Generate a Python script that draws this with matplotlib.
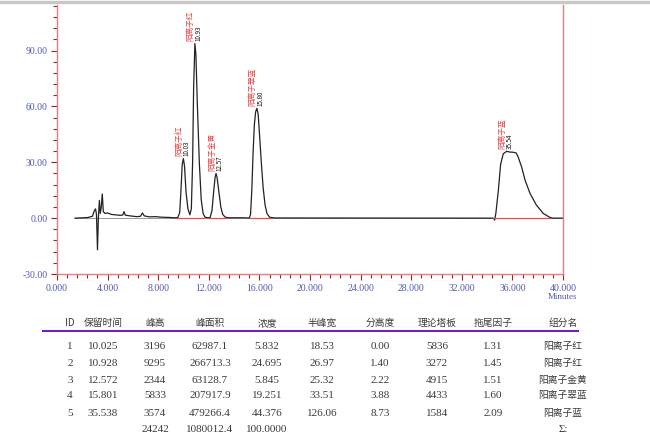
import matplotlib
matplotlib.use("Agg")
import matplotlib.pyplot as plt
from matplotlib.ticker import MultipleLocator, FormatStrFormatter
from matplotlib.lines import Line2D

plt.rcParams['font.family'] = ['Noto Sans CJK SC', 'DejaVu Sans']

# chromatogram trace (minutes, mV)
trace_t = [1.42, 2.4, 2.8, 2.95, 3.05, 3.12, 3.2, 3.27, 3.35, 3.42, 3.5, 3.58, 3.66,
           3.8, 4.0, 4.3, 4.6, 5.0, 5.2, 5.3, 5.4, 5.8, 6.3, 6.6, 6.75, 6.9, 7.3, 7.8,
           8.3, 8.8, 9.3, 9.55, 9.7, 9.8, 9.9, 9.99, 10.08, 10.2, 10.35, 10.5, 10.62,
           10.72, 10.8, 10.9, 10.98, 11.1, 11.25, 11.4, 11.55, 11.7, 11.9, 12.1, 12.25,
           12.38, 12.5, 12.57, 12.65, 12.8, 12.95, 13.1, 13.3, 13.6, 14.5, 15.2, 15.3,
           15.4, 15.5, 15.6, 15.7, 15.8, 15.9, 16.0, 16.15, 16.3, 16.45, 16.6, 16.8,
           17.2, 34.5, 34.6, 34.7, 34.89, 35.07, 35.28, 35.55, 35.8, 36.07, 36.3, 36.45,
           36.6, 36.73, 37.0, 37.4, 37.9, 38.44, 38.97, 39.2, 40.0]
trace_s = [0.0, 0.3, 1.0, 4.0, 5.0, 2.0, -17.0, 0.0, 9.5, 2.5, 6.0, 13.0, 3.5,
           2.5, 2.8, 2.0, 1.8, 1.5, 1.7, 3.5, 1.6, 1.2, 0.8, 1.0, 2.8, 1.2, 0.7, 0.8,
           0.5, 0.4, 0.2, 0.3, 3.0, 15.0, 29.0, 32.0, 28.0, 14.0, 5.0, 1.8, 5.0,
           30.0, 70.0, 93.8, 88.0, 60.0, 30.0, 10.0, 2.5, 0.5, 0.2, 0.3, 4.0,
           14.0, 22.0, 24.0, 22.0, 14.0, 6.0, 2.0, 0.5, 0.2, 0.2, 0.1, 2.0,
           15.0, 35.0, 50.0, 57.0, 59.0, 56.0, 46.0, 30.0, 16.0, 7.0, 2.5, 0.5,
           0.1, 0.0, -1.0, 3.0, 15.0, 29.0, 34.6, 35.9, 35.5, 35.4, 35.0, 33.0,
           30.0, 27.5, 20.4, 13.2, 7.0, 2.5, 0.4, 0.0, 0.0]

# integration baselines
base_start = [9.5, 12.1, 15.25, 34.5]
base_end = [11.6, 13.4, 16.9, 39.0]

# peak labels
peak_t = [9.99, 10.9, 12.57, 15.8, 35.55]
peak_h = [32.0, 93.8, 24.0, 59.0, 35.9]
peak_name = ["阳离子红", "阳离子红", "阳离子金黄", "阳离子翠蓝", "阳离子蓝"]
peak_rt = ["10.03", "10.93", "12.57", "15.80", "35.54"]

# result table
headers = ["ID", "保留时间", "峰高", "峰面积", "浓度", "半峰宽", "分高度", "理论塔板", "拖尾因子", "组分名"]
ids = ["1", "2", "3", "4", "5"]
ret_time = ["10.025", "10.928", "12.572", "15.801", "35.538"]
height = ["3196", "9295", "2344", "5833", "3574"]
area = ["62987.1", "266713.3", "63128.7", "207917.9", "479266.4"]
conc = ["5.832", "24.695", "5.845", "19.251", "44.376"]
half_width = ["18.53", "26.97", "25.32", "33.51", "126.06"]
resolution = ["0.00", "1.40", "2.22", "3.88", "8.73"]
plates = ["5836", "3272", "4915", "4433", "1584"]
tailing = ["1.31", "1.45", "1.51", "1.60", "2.09"]
names = ["阳离子红", "阳离子红", "阳离子金黄", "阳离子翠蓝", "阳离子蓝"]
totals = ["", "", "24242", "1080012.4", "100.0000", "", "", "", "", "Σ:"]

W, H = 650, 442
fig = plt.figure(figsize=(6.5, 4.42), dpi=100)
ax = fig.add_axes([57 / W, 1 - 274 / H, (563 - 57) / W, (274 - 5) / H])

spine_c = "#e08080"
tick_c = "#5058b0"
ax.plot(trace_t, trace_s, color="#222222", lw=0.9)
ax.plot([1.42, 40.0], [0, 0], color="#888888", lw=0.6, zorder=0)
for a, b in zip(base_start, base_end):
    ax.plot([a, b], [0, 0], color="#e05050", lw=0.9)

for t, h, nm, rt in zip(peak_t, peak_h, peak_name, peak_rt):
    ax.annotate(nm, (t, h), xytext=(-3, 2), textcoords="offset points",
                rotation=90, ha="center", va="bottom", fontsize=5.5, color="#e84040")
    ax.annotate(rt, (t, h), xytext=(2.5, 2), textcoords="offset points",
                rotation=90, ha="center", va="bottom", fontsize=4.5, color="#111111")

ax.set_xlim(0, 40)
ax.set_ylim(-30, 114.5)
ax.xaxis.set_major_locator(MultipleLocator(4))
ax.xaxis.set_minor_locator(MultipleLocator(0.8))
ax.yaxis.set_major_locator(MultipleLocator(30))
ax.yaxis.set_minor_locator(MultipleLocator(6))
ax.xaxis.set_major_formatter(FormatStrFormatter("%.3f"))
ax.yaxis.set_major_formatter(FormatStrFormatter("%.2f"))
for side in ["left", "bottom", "right"]:
    ax.spines[side].set_color(spine_c)
    ax.spines[side].set_linewidth(1.0)
ax.spines["top"].set_visible(False)
ax.tick_params(which="both", direction="out", color="#a02020", width=0.8)
ax.tick_params(which="major", length=4, labelsize=7, labelcolor=tick_c, pad=3)
ax.tick_params(which="minor", length=3)
for lab in ax.get_xticklabels() + ax.get_yticklabels():
    lab.set_family("Liberation Serif")
fig.text(563 / W, 1 - 297 / H, "Minutes", fontsize=6.5, color=tick_c,
         ha="center", va="center", family="Liberation Serif")

# grey frame line at top edge
fig.add_artist(Line2D([0, 1], [1 - 1.5 / H, 1 - 1.5 / H], color="#c8c8c8", lw=2.5))

# table
col_x = [70, 103, 155, 210, 267, 322, 380, 437, 493, 563]
row_y = [345, 362, 379, 394, 412]
txt_c = "#3a3a3a"
for x, hd in zip(col_x, headers):
    fig.text(x / W, 1 - 326 / H, hd, fontsize=7, color=txt_c, ha="center", va="baseline")
fig.add_artist(Line2D([43 / W, 578 / W], [1 - 331 / H, 1 - 331 / H], color="#7020c0", lw=1.5))
columns = [ids, ret_time, height, area, conc, half_width, resolution, plates, tailing, names]
for x, col in zip(col_x, columns):
    for y, v in zip(row_y, col):
        if v in names:
            fig.text(x / W, 1 - (y + 4) / H, v, fontsize=7, color=txt_c, ha="center", va="baseline")
        else:
            fig.text(x / W, 1 - (y + 4) / H, v, fontsize=8, color=txt_c, ha="center", va="baseline",
                     family="Liberation Serif")
for x, v in zip(col_x, totals):
    if v:
        fig.text(x / W, 1 - 432 / H, v, fontsize=8, color=txt_c, ha="center", va="baseline",
                 family="Liberation Serif")

fig.savefig("out.png", dpi=100)
